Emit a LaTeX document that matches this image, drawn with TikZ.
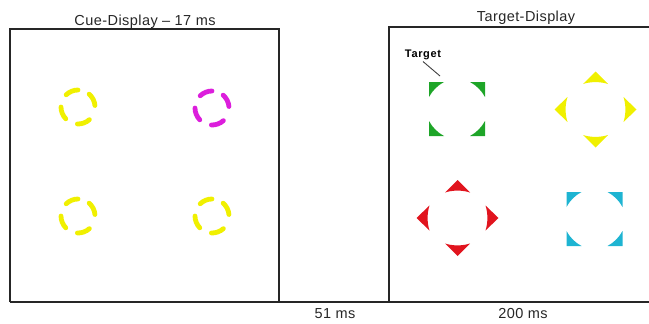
\documentclass[tikz,border=0pt]{standalone}
\usepackage{fontspec}
\setmainfont{Liberation Sans}
\definecolor{cueyellow}{RGB}{240,240,0}
\definecolor{cuemag}{RGB}{220,30,220}
\definecolor{tgreen}{RGB}{30,165,40}
\definecolor{tred}{RGB}{225,20,30}
\definecolor{tcyan}{RGB}{30,180,210}
\tikzset{
  frame/.style={line width=1.3pt, black!85},
  lbl/.style={inner sep=0pt, anchor=base, font=\fontsize{14.5}{16}\selectfont\addfontfeature{LetterSpace=3}, text=black!85},
  cue/.pic={
    \foreach \a in {5,90,180,268}
      \draw[line width=4.8pt, line cap=round, pic actions] (\a:17pt) arc[start angle=\a, end angle=\a+44, radius=17pt];
  },
  sqtarget/.pic={
    \foreach \sx/\sy in {1/1,1/-1,-1/1,-1/-1}
      \fill[pic actions, xscale=\sx, yscale=\sy]
        (28pt,27pt) -- (13pt,27pt) .. controls (19.5pt,23.5pt) and (24.5pt,18.5pt) .. (28pt,12pt) -- cycle;
  },
  dmtarget/.pic={
    \foreach \s in {1,-1} {
      \fill[pic actions, yscale=\s]
        (0,38pt) -- (12.5pt,25.5pt) .. controls (5pt,28pt) and (-5pt,28pt) .. (-12.5pt,25.5pt) -- cycle;
      \fill[pic actions, xscale=\s]
        (41pt,0) -- (28pt,12.5pt) .. controls (30.5pt,5pt) and (30.5pt,-5pt) .. (28pt,-12.5pt) -- cycle;
    }
  }
}
\begin{document}
\begin{tikzpicture}[x=1pt,y=-1pt]
\useasboundingbox (0,0) rectangle (649,324);
% frames
\draw[frame] (10,302) -- (10,29) -- (279,29) -- (279,302);
\draw[frame] (389,302) -- (389,27) -- (649,27);
\draw[frame] (10,302) -- (649,302);
% titles and times
\node[lbl] (cuetitle) at (145,25) {Cue-Display – 17 ms};
\node[lbl] (tgttitle) at (526,21) {Target-Display};
\node[lbl] (t51) at (335,318) {51 ms};
\node[lbl] (t200) at (523,318) {200 ms};
% cue display
\pic[draw=cueyellow] at (78,107) {cue};
\pic[draw=cuemag] at (212,108) {cue};
\pic[draw=cueyellow] at (78,216) {cue};
\pic[draw=cueyellow] at (212,216) {cue};
% target display
\pic[fill=tgreen] at (457,109) {sqtarget};
\pic[fill=cueyellow] at (595.5,109.5) {dmtarget};
\pic[fill=tred] at (457.5,218) {dmtarget};
\pic[fill=tcyan] at (594.5,219) {sqtarget};
% target label
\node[inner sep=0pt, anchor=base, font=\bfseries\fontsize{11}{13}\selectfont\addfontfeature{LetterSpace=6}] (tlabel) at (423,57) {Target};
\coordinate (tgt) at (440,76);
\draw[line width=0.9pt, black!75] (tlabel.south) ++(0,2) -- (tgt);
\end{tikzpicture}
\end{document}
